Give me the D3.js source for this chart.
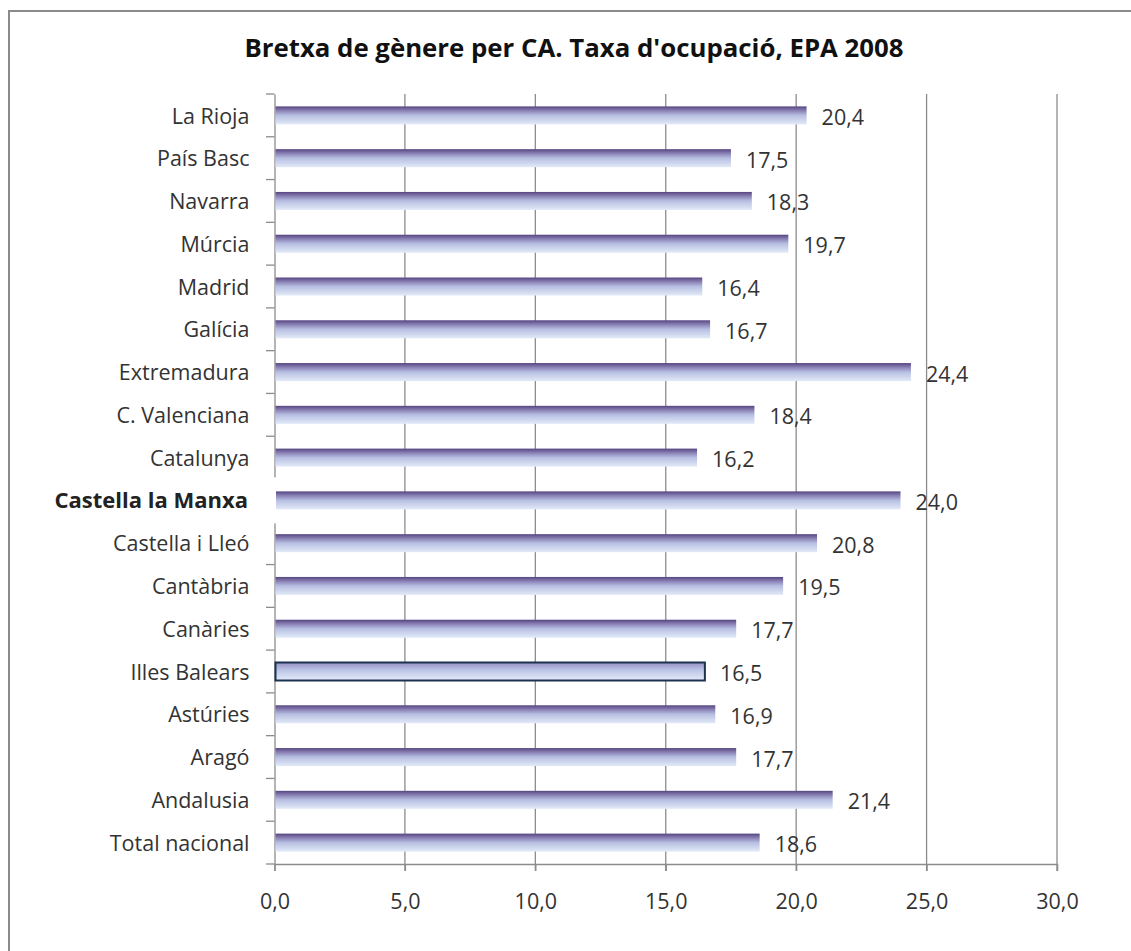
<!DOCTYPE html>
<html><head><meta charset="utf-8">
<script src="https://cdn.jsdelivr.net/npm/d3@7"></script>
<style>
body{margin:0;background:#fff;}
svg{display:block;}
text{font-family:"Open Sans",sans-serif;}
</style></head>
<body>
<svg id="chart" width="1131" height="951"></svg>
<script>
const categories = ["La Rioja","País Basc","Navarra","Múrcia","Madrid","Galícia","Extremadura","C. Valenciana","Catalunya","Castella la Manxa","Castella i Lleó","Cantàbria","Canàries","Illes Balears","Astúries","Aragó","Andalusia","Total nacional"];
const values = [20.4,17.5,18.3,19.7,16.4,16.7,24.4,18.4,16.2,24.0,20.8,19.5,17.7,16.5,16.9,17.7,21.4,18.6];
const xTicks = [0,5,10,15,20,25,30];
const title = "Bretxa de gènere per CA. Taxa d'ocupació, EPA 2008";
const highlightLabel = "Castella la Manxa";
const outlinedBar = "Illes Balears";

const FONT = "'Open Sans',sans-serif";
const FS = 21.5;
const svg = d3.select("#chart");
const fmt = v => v.toFixed(1).replace(".", ",");

// outer frame
svg.append("path").attr("d","M9,951 L9,11 L1131,11").attr("fill","none").attr("stroke","#8a8a8a").attr("stroke-width",2);

const defs = svg.append("defs");
const g1 = defs.append("linearGradient").attr("id","barGrad").attr("x1",0).attr("y1",0).attr("x2",0).attr("y2",1);
[["0%","#554580"],["22%","#877db2"],["50%","#b7bfe2"],["100%","#e2eaf8"]].forEach(s=>g1.append("stop").attr("offset",s[0]).attr("stop-color",s[1]));
const g2 = defs.append("linearGradient").attr("id","barGrad2").attr("x1",0).attr("y1",0).attr("x2",0).attr("y2",1);
[["0%","#9690c4"],["45%","#bfc7e8"],["100%","#e3ebf9"]].forEach(s=>g2.append("stop").attr("offset",s[0]).attr("stop-color",s[1]));

const x = d3.scaleLinear().domain([0,30]).range([274.5,1057]);
const y = d3.scaleBand().domain(categories).range([94,864]);
const barH = 18;

// title
svg.append("text").attr("x",574).attr("y",57).attr("text-anchor","middle")
  .attr("font-size",25.8).attr("font-weight","bold").attr("fill","#111").text(title);

// gridlines
svg.append("g").selectAll("line").data(xTicks.slice(1)).join("line")
  .attr("x1",d=>x(d)).attr("x2",d=>x(d)).attr("y1",94).attr("y2",871)
  .attr("stroke","#8c8c8c").attr("stroke-width",1.3);

// bottom axis
const xAxis = svg.append("g").attr("transform","translate(0,864)")
  .call(d3.axisBottom(x).tickValues(xTicks).tickFormat(fmt).tickSize(7).tickPadding(23));
xAxis.select(".domain").attr("stroke","#8c8c8c").attr("stroke-width",1.3);
xAxis.selectAll(".tick line").attr("stroke","#8c8c8c").attr("stroke-width",1.3);
xAxis.selectAll("text").attr("font-size",FS).attr("fill","#333").attr("font-family",FONT);

// left axis
const yAxis = svg.append("g").attr("transform","translate(274.5,0)")
  .call(d3.axisLeft(y).tickSize(0).tickPadding(25));
yAxis.select(".domain").attr("stroke","#8c8c8c").attr("stroke-width",1.3);
yAxis.selectAll("text").attr("font-size",FS).attr("fill","#333").attr("font-family",FONT).attr("dy","0.38em");
// category separator ticks
const bounds = categories.map(c=>y(c)).concat([864]);
svg.append("g").selectAll("line").data(bounds).join("line")
  .attr("x1",266).attr("x2",274.5).attr("y1",d=>d).attr("y2",d=>d)
  .attr("stroke","#8c8c8c").attr("stroke-width",1.3);

// bars
svg.append("g").selectAll("rect").data(categories).join("rect")
  .attr("x",x(0)+1).attr("y",(d)=>y(d)+y.bandwidth()/2-barH/2)
  .attr("width",(d,i)=>x(values[i])-x(0)-1).attr("height",barH)
  .attr("fill",d=>d===outlinedBar?"url(#barGrad2)":"url(#barGrad)")
  .attr("stroke",d=>d===outlinedBar?"#1c3350":"none").attr("stroke-width",2);

// value labels
svg.append("g").selectAll("text").data(categories).join("text")
  .attr("x",(d,i)=>x(values[i])+15).attr("y",d=>y(d)+y.bandwidth()/2+9.5)
  .attr("font-size",FS).attr("fill","#333").text((d,i)=>fmt(values[i]));

// highlighted label box
const hy = y(highlightLabel)+y.bandwidth()/2;
svg.append("rect").attr("x",34).attr("y",hy-23).attr("width",242).attr("height",46).attr("fill","#fff");
svg.append("text").attr("x",248).attr("y",hy+8).attr("text-anchor","end")
  .attr("font-size",22).attr("font-weight","bold").attr("fill","#222").text(highlightLabel);
yAxis.selectAll(".tick").filter(d=>d===highlightLabel).remove();
</script>
</body></html>
